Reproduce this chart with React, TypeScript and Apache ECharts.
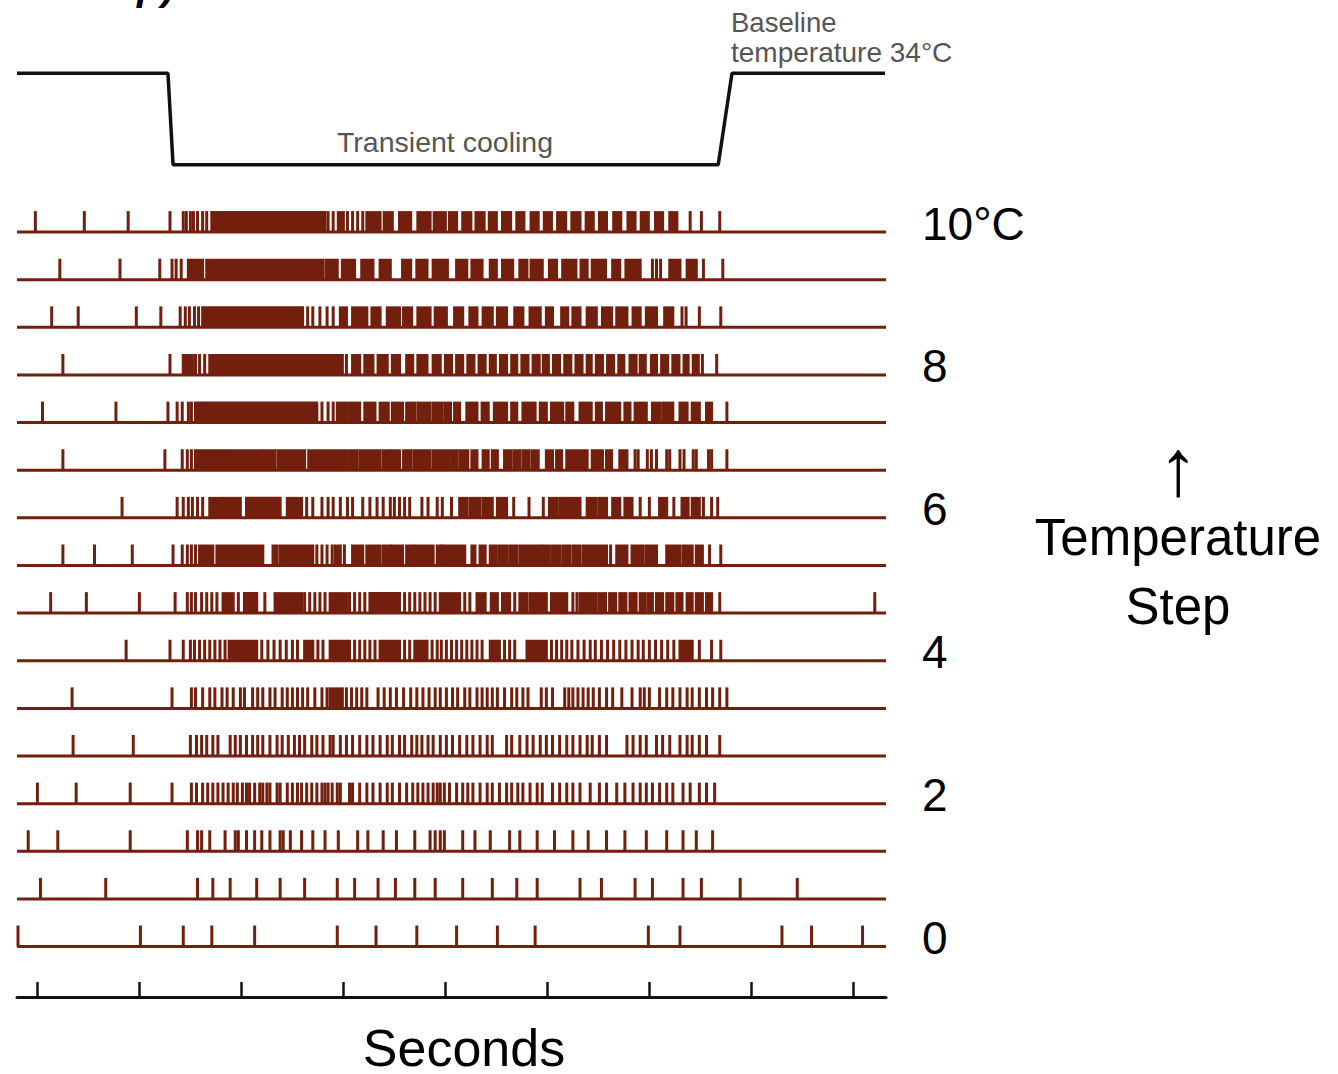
import React, { useEffect, useRef } from 'react';
import * as echarts from 'echarts';

// ---------- axes ----------
const X_MIN = -0.2; // seconds
const X_MAX = 8.32;
const secondTicks = [0, 1, 2, 3, 4, 5, 6, 7, 8];

// rows: 0 = bottom (0 °C step) ... 15 = top (10 °C step)
const labelRows = [0, 3, 6, 9, 12, 15];
const labelTexts = ['0', '2', '4', '6', '8', '10°C'];

// ---------- temperature trace ----------
const traceTimes = [-0.2, 1.28, 1.33, 6.675, 6.81, 8.31];
const traceTemps = [34, 34, 24, 24, 34, 34];

// ---------- spike trains (seconds); bursts = runs of spikes that merge ----------
const spikesRow15 = [-0.02, 0.46, 0.89, 1.3, 1.43, 1.46, 1.5, 1.53, 1.57, 1.62, 1.66, 2.85, 2.9, 3.04, 3.09, 3.14, 3.19, 6.4, 6.51, 6.69];
const burstsRow15 = [[1.71, 2.82], [2.95, 3.0], [3.23, 3.36], [3.4, 3.48], [3.55, 3.66], [3.73, 3.85], [3.89, 4.0], [4.04, 4.11], [4.17, 4.25], [4.3, 4.38], [4.43, 4.5], [4.56, 4.64], [4.7, 4.77], [4.84, 4.91], [4.97, 5.04], [5.1, 5.18], [5.24, 5.32], [5.38, 5.45], [5.51, 5.58], [5.65, 5.72], [5.79, 5.86], [5.92, 5.99], [6.06, 6.13], [6.2, 6.27]];

const spikesRow14 = [0.22, 0.81, 1.2, 1.32, 1.36, 1.41, 6.03, 6.07, 6.11, 6.53, 6.72];
const burstsRow14 = [[1.48, 1.62], [1.66, 2.8], [2.83, 2.94], [2.99, 3.11], [3.18, 3.29], [3.36, 3.46], [3.58, 3.66], [3.72, 3.82], [3.88, 4.02], [4.11, 4.21], [4.26, 4.36], [4.44, 4.5], [4.56, 4.66], [4.73, 4.8], [4.84, 4.95], [5.02, 5.09], [5.15, 5.28], [5.33, 5.39], [5.44, 5.57], [5.64, 5.71], [5.77, 5.91], [6.2, 6.3], [6.37, 6.46]];

const spikesRow13 = [0.14, 0.4, 0.97, 1.21, 1.4, 1.45, 1.49, 1.54, 1.58, 2.6, 2.65, 2.7, 2.77, 2.84, 2.9, 6.32, 6.36, 6.49, 6.7];
const burstsRow13 = [[1.62, 2.59], [2.97, 3.03], [3.09, 3.23], [3.28, 3.36], [3.43, 3.55], [3.59, 3.67], [3.73, 3.85], [3.9, 4.01], [4.09, 4.17], [4.24, 4.31], [4.37, 4.46], [4.51, 4.6], [4.68, 4.76], [4.83, 4.93], [4.99, 5.05], [5.14, 5.2], [5.25, 5.32], [5.39, 5.48], [5.54, 5.63], [5.68, 5.78], [5.84, 5.91], [5.97, 6.07], [6.15, 6.23]];

const spikesRow12 = [0.25, 1.3, 1.55, 1.59, 1.64, 3.03, 6.52, 6.66];
const burstsRow12 = [[1.43, 1.52], [1.69, 2.99], [3.09, 3.16], [3.21, 3.29], [3.34, 3.43], [3.48, 3.55], [3.62, 3.68], [3.73, 3.82], [3.88, 3.95], [4.0, 4.06], [4.11, 4.17], [4.22, 4.28], [4.33, 4.39], [4.44, 4.49], [4.54, 4.6], [4.65, 4.7], [4.75, 4.81], [4.86, 4.92], [4.96, 5.01], [5.06, 5.12], [5.17, 5.23], [5.28, 5.34], [5.39, 5.43], [5.48, 5.54], [5.59, 5.65], [5.7, 5.75], [5.81, 5.87], [5.91, 5.96], [6.02, 6.07], [6.12, 6.18], [6.23, 6.29], [6.34, 6.38], [6.43, 6.48]];

const spikesRow11 = [0.05, 0.77, 1.28, 1.37, 1.42, 1.48, 1.51, 2.74, 2.79, 2.85, 2.9, 6.76];
const burstsRow11 = [[1.55, 2.72], [2.94, 3.03], [3.06, 3.16], [3.21, 3.31], [3.36, 3.44], [3.48, 3.58], [3.62, 3.7], [3.73, 3.85], [3.88, 3.97], [4.0, 4.05], [4.09, 4.14], [4.21, 4.31], [4.36, 4.42], [4.48, 4.6], [4.65, 4.7], [4.76, 4.88], [4.93, 4.99], [5.04, 5.15], [5.19, 5.25], [5.32, 5.43], [5.48, 5.53], [5.58, 5.71], [5.76, 5.81], [5.86, 5.97], [6.03, 6.1], [6.13, 6.23], [6.3, 6.37], [6.42, 6.49], [6.56, 6.61]];

const spikesRow10 = [0.25, 1.25, 1.42, 1.47, 1.51, 5.86, 5.89, 5.98, 6.02, 6.07, 6.17, 6.2, 6.3, 6.34, 6.43, 6.46, 6.58, 6.61, 6.76];
const burstsRow10 = [[1.55, 1.63], [1.65, 1.71], [1.73, 1.79], [1.81, 1.87], [1.89, 2.2], [2.22, 2.33], [2.36, 2.62], [2.66, 3.04], [3.07, 3.13], [3.16, 3.36], [3.39, 3.46], [3.48, 3.55], [3.59, 3.66], [3.69, 3.76], [3.78, 3.85], [3.88, 4.04], [4.07, 4.11], [4.14, 4.22], [4.26, 4.31], [4.37, 4.42], [4.46, 4.51], [4.58, 4.64], [4.67, 4.73], [4.76, 4.82], [4.85, 4.91], [4.99, 5.05], [5.09, 5.14], [5.19, 5.27], [5.29, 5.39], [5.44, 5.54], [5.58, 5.63], [5.71, 5.78]];

const spikesRow9 = [0.83, 1.37, 1.43, 1.48, 1.52, 1.57, 1.62, 2.64, 2.7, 2.79, 2.85, 2.9, 2.97, 3.04, 3.09, 3.19, 3.26, 3.33, 3.39, 3.46, 3.5, 3.55, 3.6, 3.65, 3.77, 3.83, 3.92, 3.97, 4.06, 4.67, 4.82, 4.96, 5.91, 6.0, 6.24, 6.53, 6.61, 6.67];
const burstsRow9 = [[1.69, 1.8], [1.82, 1.99], [2.05, 2.38], [2.45, 2.59], [4.14, 4.21], [4.24, 4.34], [4.37, 4.46], [4.51, 4.6], [5.02, 5.09], [5.12, 5.22], [5.24, 5.32], [5.39, 5.48], [5.51, 5.58], [5.64, 5.71], [5.76, 5.83], [6.1, 6.17], [6.32, 6.38], [6.42, 6.49]];

const spikesRow8 = [0.25, 0.56, 0.93, 1.33, 1.42, 1.47, 1.51, 1.55, 2.74, 2.79, 2.84, 2.89, 3.01, 5.62, 6.59, 6.7];
const burstsRow8 = [[1.59, 1.72], [1.76, 2.21], [2.31, 2.35], [2.38, 2.7], [2.92, 2.97], [3.09, 3.19], [3.23, 3.36], [3.39, 3.46], [3.48, 3.58], [3.62, 3.68], [3.7, 3.88], [3.92, 3.96], [3.97, 4.19], [4.26, 4.29], [4.34, 4.39], [4.44, 4.5], [4.53, 4.6], [4.63, 4.7], [4.73, 4.93], [4.95, 5.02], [5.05, 5.12], [5.15, 5.22], [5.25, 5.32], [5.35, 5.58], [5.68, 5.78], [5.83, 5.94], [5.97, 6.07], [6.17, 6.3], [6.33, 6.42], [6.46, 6.52]];

const spikesRow7 = [0.13, 0.48, 1.0, 1.35, 1.47, 1.51, 1.55, 1.61, 1.66, 1.71, 1.76, 1.97, 2.23, 2.62, 2.67, 2.72, 2.77, 2.82, 3.06, 3.11, 3.16, 3.21, 3.6, 3.65, 3.7, 3.75, 3.8, 3.85, 3.9, 4.19, 4.24, 4.68, 5.25, 5.29, 6.69, 8.21];
const burstsRow7 = [[1.82, 1.92], [2.03, 2.15], [2.33, 2.59], [2.87, 3.03], [3.26, 3.55], [3.95, 4.14], [4.31, 4.39], [4.45, 4.51], [4.56, 4.63], [4.73, 4.8], [4.83, 4.99], [5.04, 5.19], [5.32, 5.48], [5.51, 5.57], [5.61, 5.67], [5.71, 5.77], [5.81, 5.87], [5.91, 5.96], [5.99, 6.03], [6.07, 6.13], [6.17, 6.23], [6.27, 6.32], [6.37, 6.42], [6.46, 6.52], [6.56, 6.61]];

const spikesRow6 = [0.87, 1.3, 1.43, 1.5, 1.54, 1.59, 1.64, 1.69, 1.74, 1.79, 1.84, 2.2, 2.26, 2.32, 2.38, 2.44, 2.5, 2.55, 2.75, 2.8, 3.11, 3.16, 3.21, 3.26, 3.31, 3.6, 3.65, 3.87, 3.92, 3.96, 4.01, 4.06, 4.11, 4.16, 4.21, 4.26, 4.31, 4.36, 4.58, 4.63, 4.68, 5.04, 5.09, 5.14, 5.19, 5.24, 5.3, 5.36, 5.42, 5.47, 5.53, 5.59, 5.65, 5.71, 5.77, 5.83, 5.89, 5.94, 6.0, 6.06, 6.12, 6.18, 6.24, 6.49, 6.61, 6.7];
const burstsRow6 = [[1.88, 2.15], [2.62, 2.7], [2.87, 3.06], [3.36, 3.55], [3.7, 3.82], [4.44, 4.53], [4.8, 4.99], [6.3, 6.42]];

const spikesRow5 = [0.34, 1.32, 1.51, 1.55, 1.62, 1.69, 1.74, 1.81, 1.86, 1.92, 1.99, 2.03, 2.11, 2.16, 2.21, 2.28, 2.33, 2.4, 2.45, 2.5, 2.55, 2.6, 2.65, 2.72, 2.79, 2.84, 2.99, 3.03, 3.08, 3.13, 3.18, 3.23, 3.34, 3.4, 3.46, 3.52, 3.59, 3.66, 3.72, 3.78, 3.84, 3.9, 3.95, 4.01, 4.07, 4.12, 4.19, 4.24, 4.31, 4.36, 4.41, 4.46, 4.51, 4.58, 4.65, 4.7, 4.76, 4.81, 4.94, 4.99, 5.05, 5.17, 5.21, 5.25, 5.3, 5.35, 5.4, 5.45, 5.51, 5.58, 5.64, 5.73, 5.83, 5.91, 5.95, 6.0, 6.1, 6.17, 6.23, 6.3, 6.37, 6.42, 6.49, 6.56, 6.62, 6.69, 6.76];
const burstsRow5 = [[2.87, 2.97]];

const spikesRow4 = [0.35, 0.94, 1.5, 1.56, 1.61, 1.66, 1.72, 1.77, 1.89, 1.94, 1.99, 2.05, 2.11, 2.16, 2.21, 2.28, 2.35, 2.4, 2.46, 2.52, 2.57, 2.62, 2.69, 2.74, 2.8, 2.87, 2.9, 2.97, 3.03, 3.09, 3.16, 3.23, 3.29, 3.36, 3.43, 3.48, 3.55, 3.6, 3.67, 3.72, 3.77, 3.83, 3.88, 3.95, 4.01, 4.07, 4.14, 4.21, 4.27, 4.34, 4.41, 4.46, 4.6, 4.65, 4.73, 4.8, 4.86, 4.93, 4.99, 5.05, 5.12, 5.19, 5.25, 5.32, 5.39, 5.44, 5.51, 5.58, 5.78, 5.84, 5.91, 5.97, 6.07, 6.13, 6.2, 6.3, 6.37, 6.42, 6.49, 6.56, 6.69];
const burstsRow4: number[][] = [];

const spikesRow3 = [0.0, 0.38, 0.91, 1.32, 1.51, 1.56, 1.62, 1.67, 1.72, 1.77, 1.82, 1.87, 1.92, 1.96, 2.01, 2.05, 2.08, 2.13, 2.18, 2.21, 2.25, 2.28, 2.35, 2.38, 2.45, 2.5, 2.55, 2.59, 2.64, 2.69, 2.74, 2.79, 2.82, 2.85, 2.89, 2.94, 2.97, 3.06, 3.09, 3.16, 3.23, 3.29, 3.36, 3.43, 3.48, 3.55, 3.62, 3.68, 3.73, 3.78, 3.83, 3.88, 3.92, 3.95, 3.99, 4.04, 4.11, 4.17, 4.22, 4.27, 4.34, 4.41, 4.46, 4.53, 4.6, 4.65, 4.71, 4.76, 4.83, 4.9, 4.95, 5.05, 5.12, 5.19, 5.25, 5.32, 5.42, 5.51, 5.58, 5.68, 5.76, 5.84, 5.91, 5.97, 6.03, 6.1, 6.17, 6.23, 6.33, 6.4, 6.49, 6.56, 6.64];
const burstsRow3: number[][] = [];

const spikesRow2 = [-0.09, 0.2, 0.91, 1.47, 1.57, 1.61, 1.69, 1.84, 1.94, 1.97, 2.05, 2.13, 2.2, 2.28, 2.38, 2.41, 2.48, 2.59, 2.7, 2.82, 2.95, 3.14, 3.24, 3.39, 3.52, 3.7, 3.85, 3.9, 3.95, 3.99, 4.17, 4.29, 4.44, 4.63, 4.73, 4.9, 5.07, 5.25, 5.4, 5.58, 5.76, 5.97, 6.17, 6.33, 6.46, 6.62];
const burstsRow2: number[][] = [];

const spikesRow1 = [0.03, 0.67, 1.57, 1.72, 1.89, 2.15, 2.38, 2.62, 2.94, 3.11, 3.34, 3.51, 3.7, 3.9, 4.17, 4.46, 4.7, 4.9, 5.32, 5.53, 5.86, 6.03, 6.33, 6.51, 6.89, 7.45];
const burstsRow1: number[][] = [];

const spikesRow0 = [-0.19, 1.01, 1.43, 1.71, 2.13, 2.94, 3.32, 3.72, 4.11, 4.51, 4.88, 5.99, 6.3, 7.3, 7.59, 8.09];
const burstsRow0: number[][] = [];

const rows = [
  { spikes: spikesRow0, bursts: burstsRow0 },
  { spikes: spikesRow1, bursts: burstsRow1 },
  { spikes: spikesRow2, bursts: burstsRow2 },
  { spikes: spikesRow3, bursts: burstsRow3 },
  { spikes: spikesRow4, bursts: burstsRow4 },
  { spikes: spikesRow5, bursts: burstsRow5 },
  { spikes: spikesRow6, bursts: burstsRow6 },
  { spikes: spikesRow7, bursts: burstsRow7 },
  { spikes: spikesRow8, bursts: burstsRow8 },
  { spikes: spikesRow9, bursts: burstsRow9 },
  { spikes: spikesRow10, bursts: burstsRow10 },
  { spikes: spikesRow11, bursts: burstsRow11 },
  { spikes: spikesRow12, bursts: burstsRow12 },
  { spikes: spikesRow13, bursts: burstsRow13 },
  { spikes: spikesRow14, bursts: burstsRow14 },
  { spikes: spikesRow15, bursts: burstsRow15 },
];

// ---------- styles ----------
const FONT = '"Liberation Sans", Arial, Helvetica, sans-serif';
const SPIKE_COLOR = '#731f0e';
const SPIKE_W = 3;
const SPIKE_H = 21;
const BASE_W = 3;

function textStyle(text: string, size: number, fill: string, align: string, vAlign: string, extra: any = {}) {
  return {
    text,
    fontSize: size,
    fontFamily: FONT,
    fill,
    align,
    verticalAlign: vAlign,
    textAlign: align,
    textVerticalAlign: vAlign,
    ...extra,
  };
}

function buildOption() {
  const spikeData: number[][] = [];
  rows.forEach((r, k) => {
    r.spikes.forEach((t) => spikeData.push([t, t, k]));
    r.bursts.forEach((b) => spikeData.push([b[0], b[1], k]));
  });
  const baselineData = rows.map((_, k) => [X_MIN, X_MAX, k]);
  const traceData = traceTimes.map((t, i) => [t, traceTemps[i]]);

  return {
    animation: false,
    backgroundColor: '#ffffff',
    grid: [
      { left: 17, right: 452, top: 194, bottom: 77 },
      { left: 17, right: 452, top: 55, height: 128 },
    ],
    xAxis: [
      {
        gridIndex: 0,
        type: 'value',
        min: X_MIN,
        max: X_MAX,
        axisLine: { show: true, onZero: false, lineStyle: { color: '#111', width: 3 } },
        axisTick: {
          show: true,
          inside: true,
          length: 15,
          customValues: secondTicks,
          lineStyle: { color: '#111', width: 2.5 },
        },
        axisLabel: { show: false },
        splitLine: { show: false },
      },
      { gridIndex: 1, type: 'value', min: X_MIN, max: X_MAX, show: false },
    ],
    yAxis: [
      {
        gridIndex: 0,
        type: 'value',
        min: -1.06,
        max: 15.8,
        position: 'right',
        axisLine: { show: false },
        axisTick: { show: false },
        splitLine: { show: false },
        axisLabel: {
          show: true,
          customValues: labelRows,
          formatter: (v: number) => {
            const i = labelRows.indexOf(Math.round(v));
            return i >= 0 ? `{t|${labelTexts[i]}}\n{s| }` : '';
          },
          margin: 36,
          align: 'left',
          verticalAlign: 'middle',
          rich: {
            t: { fontSize: 46, lineHeight: 46, fontFamily: FONT, color: '#000' },
            s: { fontSize: 10, lineHeight: 17, color: '#fff' },
          },
        },
      },
      { gridIndex: 1, type: 'value', min: 22, max: 36, show: false },
    ],
    series: [
      {
        type: 'custom',
        name: 'baselines',
        xAxisIndex: 0,
        yAxisIndex: 0,
        clip: false,
        encode: { x: [0, 1], y: 2 },
        data: baselineData,
        renderItem: (params: any, api: any) => {
          const p0 = api.coord([api.value(0), api.value(2)]);
          const p1 = api.coord([api.value(1), api.value(2)]);
          return {
            type: 'rect',
            shape: { x: p0[0], y: p0[1] - BASE_W / 2, width: p1[0] - p0[0], height: BASE_W },
            style: { fill: SPIKE_COLOR },
          };
        },
      },
      {
        type: 'custom',
        name: 'spikes',
        xAxisIndex: 0,
        yAxisIndex: 0,
        clip: false,
        encode: { x: [0, 1], y: 2 },
        data: spikeData,
        renderItem: (params: any, api: any) => {
          const p0 = api.coord([api.value(0), api.value(2)]);
          const p1 = api.coord([api.value(1), api.value(2)]);
          return {
            type: 'rect',
            shape: {
              x: p0[0] - SPIKE_W / 2,
              y: p0[1] - SPIKE_H,
              width: p1[0] - p0[0] + SPIKE_W,
              height: SPIKE_H,
            },
            style: { fill: SPIKE_COLOR },
          };
        },
      },
      {
        type: 'line',
        name: 'temperature',
        xAxisIndex: 1,
        yAxisIndex: 1,
        data: traceData,
        showSymbol: false,
        symbol: 'none',
        lineStyle: { color: '#111', width: 3.5 },
      },
    ],
    graphic: [
      {
        type: 'text',
        x: 137,
        y: -14,
        style: textStyle('p)', 40, '#000', 'left', 'middle', { fontStyle: 'italic', fontWeight: 'bold' }),
      },
      { type: 'text', x: 445, y: 142, style: textStyle('Transient cooling', 28.5, '#555', 'center', 'middle') },
      { type: 'text', x: 731, y: 22, style: textStyle('Baseline', 27.5, '#555', 'left', 'middle') },
      { type: 'text', x: 731, y: 52, style: textStyle('temperature 34°C', 28, '#555', 'left', 'middle') },
      { type: 'text', x: 1178, y: 467, style: textStyle('↑', 80, '#000', 'center', 'middle') },
      { type: 'text', x: 1178, y: 537, style: textStyle('Temperature', 51, '#000', 'center', 'middle') },
      { type: 'text', x: 1178, y: 606, style: textStyle('Step', 51, '#000', 'center', 'middle') },
      { type: 'text', x: 464, y: 1048, style: textStyle('Seconds', 52, '#000', 'center', 'middle') },
    ],
  };
}

export default function App() {
  const ref = useRef<HTMLDivElement>(null);
  useEffect(() => {
    if (!ref.current) return;
    const chart = echarts.init(ref.current, null, { renderer: 'svg' });
    chart.setOption(buildOption() as any);
    return () => {
      chart.dispose();
    };
  }, []);
  return (
    <div
      ref={ref}
      style={{ position: 'fixed', left: 0, top: 0, width: 1338, height: 1074, background: '#fff' }}
    />
  );
}
